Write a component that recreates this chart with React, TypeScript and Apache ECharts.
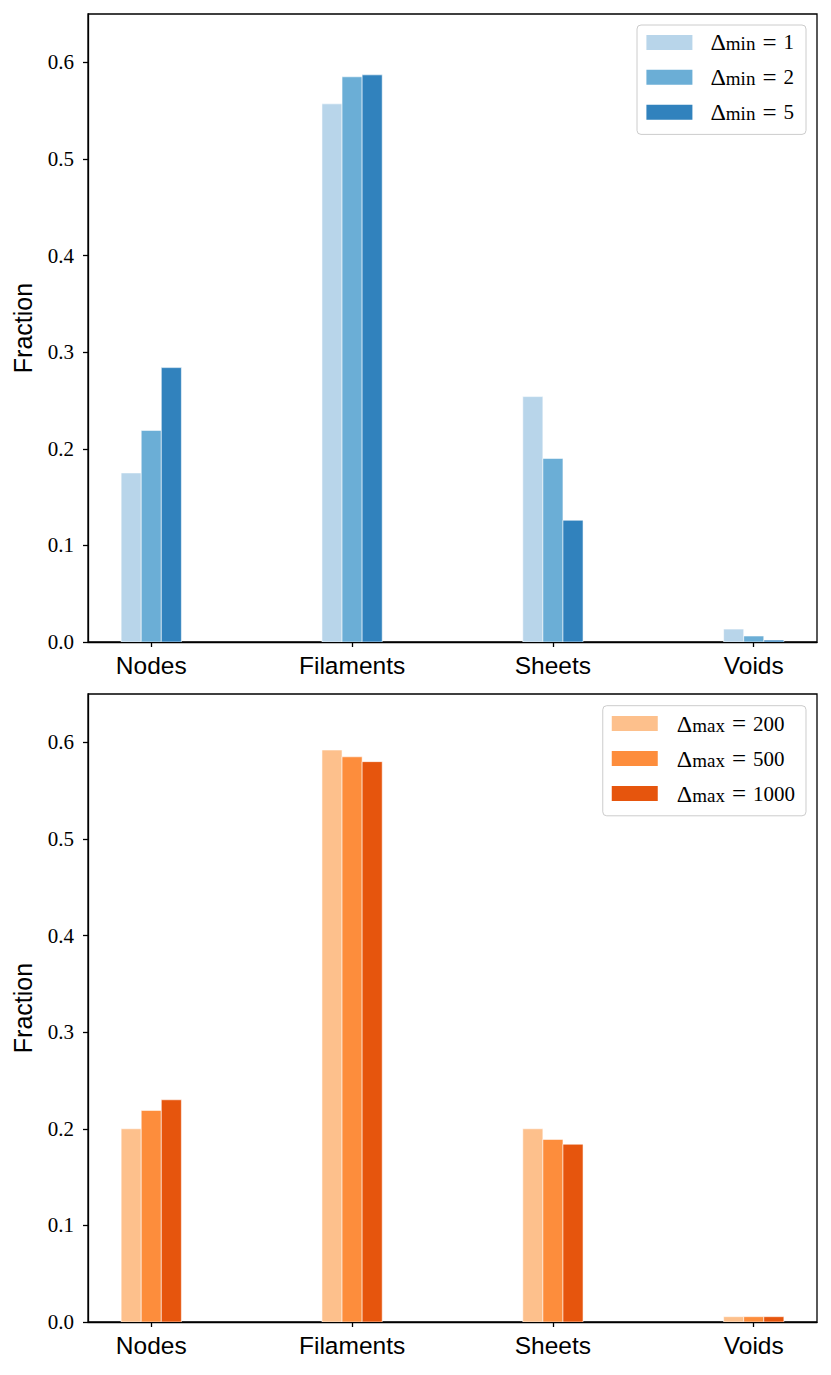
import React, { useEffect, useRef } from "react";
import * as echarts from "echarts";

const categories = ["Nodes", "Filaments", "Sheets", "Voids"];
const yTicks = [0, 0.1, 0.2, 0.3, 0.4, 0.5, 0.6];

const minLabels = ["1", "2", "5"];
const fracMin1 = [0.175, 0.557, 0.254, 0.0134];
const fracMin2 = [0.219, 0.585, 0.19, 0.0062];
const fracMin5 = [0.284, 0.587, 0.126, 0.002];

const maxLabels = ["200", "500", "1000"];
const fracMax200 = [0.2, 0.592, 0.2, 0.0055];
const fracMax500 = [0.219, 0.585, 0.189, 0.0055];
const fracMax1000 = [0.23, 0.58, 0.184, 0.0055];

const blues = ["#b8d5ea", "#6baed6", "#3182bd"];
const oranges = ["#fdc08c", "#fd8d3c", "#e6550d"];

const SERIF = "Liberation Serif";
const SANS = "Liberation Sans";
const BAR_W = 0.1;
const X_MIN = -0.315;
const X_MAX = 3.315;

function makeSeries(
  vals: number[][],
  sub: string,
  labels: string[],
  colors: string[],
  axisIndex: number
) {
  return vals.map((arr, k) => {
    const offset = (k - 1) * BAR_W;
    const color = colors[k];
    return {
      type: "custom",
      name: `Δ${sub} = ${labels[k]}`,
      xAxisIndex: axisIndex,
      yAxisIndex: axisIndex,
      itemStyle: { color },
      clip: true,
      data: arr.map((v, i) => [i + offset, v]),
      renderItem: (params: any, api: any) => {
        const x = api.value(0);
        const y = api.value(1);
        const p0 = api.coord([x - BAR_W / 2, y]);
        const p1 = api.coord([x + BAR_W / 2, 0]);
        return {
          type: "rect",
          shape: { x: p0[0], y: p0[1], width: p1[0] - p0[0], height: p1[1] - p0[1] },
          style: { fill: color, stroke: "rgba(255,255,255,0.7)", lineWidth: 0.8 },
        };
      },
    };
  });
}

function legendFormatter(name: string) {
  const m = name.match(/^Δ(\w+) = (.*)$/);
  if (!m) return name;
  return `{d|Δ}{s|${m[1]}}{w| }{q|=}{w| }{e|${m[2]}}`;
}

const legendRich = {
  d: { fontFamily: SERIF, fontSize: 24, lineHeight: 22, color: "#000", verticalAlign: "middle" },
  s: { fontFamily: SERIF, fontSize: 19, lineHeight: 14, color: "#000", verticalAlign: "bottom" },
  w: { fontFamily: SERIF, fontSize: 28, lineHeight: 22, color: "#000", verticalAlign: "middle" },
  q: { fontFamily: SERIF, fontSize: 25, lineHeight: 22, color: "#000", verticalAlign: "middle" },
  e: { fontFamily: SERIF, fontSize: 21, lineHeight: 22, color: "#000", verticalAlign: "middle" },
};

function makeXAxis(gridIndex: number) {
  return {
    type: "value",
    gridIndex,
    min: X_MIN,
    max: X_MAX,
    splitLine: { show: false },
    axisLine: { show: true, onZero: false, lineStyle: { color: "#000", width: 1.3 } },
    axisTick: {
      show: true,
      length: 5,
      customValues: categories.map((_, i) => i),
      lineStyle: { color: "#000", width: 1.3 },
    },
    axisLabel: {
      customValues: categories.map((_, i) => i),
      formatter: (v: number) => categories[Math.round(v)] ?? "",
      fontFamily: SANS,
      fontSize: 24.5,
      color: "#000",
      margin: 11,
    },
  };
}

function makeYAxis(gridIndex: number) {
  return {
    type: "value",
    gridIndex,
    min: 0,
    max: 0.65,
    name: "Fraction",
    nameLocation: "middle",
    nameGap: 53,
    nameTextStyle: { fontFamily: SANS, fontSize: 25, color: "#000" },
    splitLine: { show: false },
    axisLine: { show: true, onZero: false, lineStyle: { color: "#000", width: 1.3 } },
    axisTick: {
      show: true,
      length: 5,
      customValues: yTicks,
      lineStyle: { color: "#000", width: 1.3 },
    },
    axisLabel: {
      customValues: yTicks,
      formatter: (v: number) => v.toFixed(1),
      fontFamily: SERIF,
      fontSize: 21,
      color: "#000",
      margin: 14,
    },
  };
}

export default function App() {
  const ref = useRef<HTMLDivElement>(null);
  useEffect(() => {
    if (!ref.current) return;
    const chart = echarts.init(ref.current, undefined, { renderer: "svg" });
    const topSeries = makeSeries([fracMin1, fracMin2, fracMin5], "min", minLabels, blues, 0);
    const botSeries = makeSeries([fracMax200, fracMax500, fracMax1000], "max", maxLabels, oranges, 1);
    const legendBase = {
      right: 25,
      orient: "vertical",
      icon: "rect",
      itemWidth: 46,
      itemHeight: 15,
      backgroundColor: "rgba(255,255,255,0.8)",
      borderColor: "#cccccc",
      borderWidth: 1,
      borderRadius: 4,
      selectedMode: false,
      formatter: legendFormatter,
    };
    chart.setOption({
      animation: false,
      backgroundColor: "#fff",
      grid: [
        { left: 88, top: 14, width: 729, height: 628, show: true, borderColor: "#000", borderWidth: 1.3, backgroundColor: "transparent" },
        { left: 88, top: 694, width: 729, height: 628, show: true, borderColor: "#000", borderWidth: 1.3, backgroundColor: "transparent" },
      ],
      xAxis: [makeXAxis(0), makeXAxis(1)],
      yAxis: [makeYAxis(0), makeYAxis(1)],
      legend: [
        {
          ...legendBase,
          data: topSeries.map((s) => s.name),
          top: 25,
          itemGap: 6.9,
          padding: [3.4, 12, 8.2, 9.4],
          textStyle: { rich: legendRich, padding: [0, 0, 0, 13] },
        },
        {
          ...legendBase,
          data: botSeries.map((s) => s.name),
          top: 705.7,
          itemGap: 7,
          padding: [3.9, 11, 8.2, 9],
          textStyle: { rich: legendRich, padding: [0, 0, 0, 14] },
        },
      ],
      series: [...topSeries, ...botSeries],
    });
    return () => chart.dispose();
  }, []);
  return (
    <div
      ref={ref}
      style={{ position: "absolute", left: 0, top: 0, width: 831, height: 1375, background: "#fff" }}
    />
  );
}
